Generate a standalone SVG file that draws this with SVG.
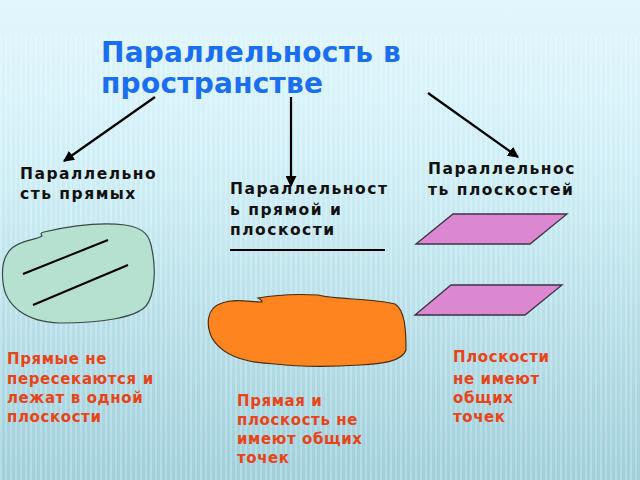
<svg xmlns="http://www.w3.org/2000/svg" width="640" height="480" viewBox="0 0 640 480">
<defs>
<linearGradient id="bg" x1="0" y1="0" x2="0" y2="1">
<stop offset="0" stop-color="#e2f7fd"/>
<stop offset="0.35" stop-color="#cfeef6"/>
<stop offset="1" stop-color="#9fcfda"/>
</linearGradient>
<pattern id="stripes" width="5" height="10" patternUnits="userSpaceOnUse">
<rect x="0" y="0" width="2" height="10" fill="#ffffff" opacity="0.22"/>
</pattern>
<marker id="ah" viewBox="0 0 10 10" refX="9" refY="5" markerWidth="5" markerHeight="5" orient="auto" markerUnits="strokeWidth">
<path d="M0,0 L10,5 L0,10 z" fill="#000"/>
</marker>
<style>
.title{font-family:"DejaVu Sans",sans-serif;font-weight:bold;font-size:28px;fill:#1a6ef0;letter-spacing:0.25px}
.lbl{font-family:"DejaVu Sans",sans-serif;font-weight:bold;font-size:15.5px;fill:#111;letter-spacing:1.5px}
.note{font-family:"DejaVu Sans",sans-serif;font-weight:bold;font-size:15px;fill:#e84418;letter-spacing:0.6px}
.conn{stroke:#000;stroke-width:2.2;fill:none}
</style>
</defs>
<rect width="640" height="480" fill="url(#bg)"/>
<rect y="35" width="640" height="445" fill="url(#stripes)"/>

<g id="title"><text class="title" x="101" y="62">Параллельность в</text><text class="title" x="101" y="93">пространстве</text></g>

<g id="connectors">
<line class="conn" x1="155" y1="97" x2="64" y2="161" marker-end="url(#ah)"/>
<line class="conn" x1="291" y1="97" x2="291" y2="186" marker-end="url(#ah)"/>
<line class="conn" x1="428" y1="93" x2="518" y2="157" marker-end="url(#ah)"/>
</g>

<g id="node-lines">
<text class="lbl" x="20" y="179">Параллельно</text>
<text class="lbl" x="20" y="199">сть прямых</text>
<path d="M12,248 C22,240 36,240 42,236 C41,234 40,233 44,232 C70,226 100,222 125,225 C145,228 150,236 152,250 C156,268 155,295 146,306 C135,318 100,323 60,323 C25,322 5,305 3,282 C1,265 4,255 12,248 Z" fill="#b6e0d0" stroke="#3a4a44" stroke-width="1.2"/>
<line x1="23" y1="274" x2="108" y2="240" stroke="#000" stroke-width="2"/>
<line x1="33" y1="305" x2="128" y2="265" stroke="#000" stroke-width="2"/>
</g>

<g id="node-line-plane">
<text class="lbl" x="230" y="194">Параллельност</text>
<text class="lbl" x="230" y="215">ь прямой и</text>
<text class="lbl" x="230" y="235">плоскости</text>
<line x1="230" y1="250" x2="385" y2="250" stroke="#000" stroke-width="2"/>
<path d="M222,303 C235,298 250,302 262,302 C262,300 258,298 258,298 C280,294 300,294 318,295 C340,300 370,298 395,304 C405,310 406,330 406,350 C402,362 380,364 360,365 C330,367 300,367 275,364 C245,363 222,355 212,338 C206,325 206,308 222,303 Z" fill="#fe8420" stroke="#4a2a10" stroke-width="1.2"/>
</g>

<g id="node-planes">
<text class="lbl" x="428" y="174">Параллельнос</text>
<text class="lbl" x="428" y="195">ть плоскостей</text>
<polygon points="416,244 453,214 567,214 530,244" fill="#dc88d0" stroke="#3d3344" stroke-width="1.3"/>
<polygon points="415,315 451,285 562,285 525,315" fill="#dc88d0" stroke="#3d3344" stroke-width="1.3"/>
</g>

<g id="note-lines">
<text class="note" x="7" y="364">Прямые не</text>
<text class="note" x="7" y="384">пересекаются и</text>
<text class="note" x="7" y="403">лежат в одной</text>
<text class="note" x="7" y="422">плоскости</text>
</g>
<g id="note-line-plane">
<text class="note" x="237" y="406">Прямая и</text>
<text class="note" x="237" y="425">плоскость не</text>
<text class="note" x="237" y="444">имеют общих</text>
<text class="note" x="237" y="463">точек</text>
</g>
<g id="note-planes">
<text class="note" x="453" y="362">Плоскости</text>
<text class="note" x="453" y="384">не имеют</text>
<text class="note" x="453" y="403">общих</text>
<text class="note" x="453" y="422">точек</text>
</g>
</svg>
